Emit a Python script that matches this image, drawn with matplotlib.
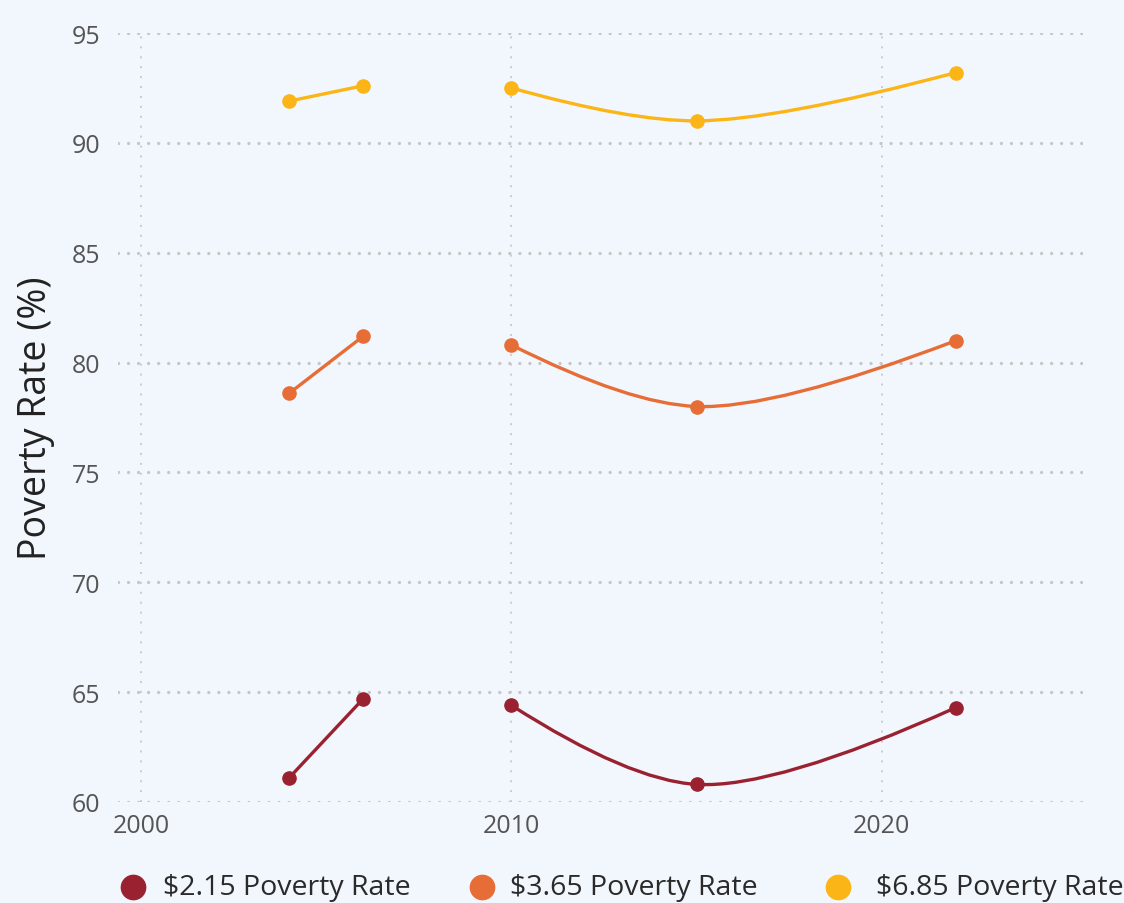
import numpy as np
import matplotlib
matplotlib.use("Agg")
import matplotlib.pyplot as plt
from matplotlib.path import Path
from matplotlib.patches import PathPatch
from matplotlib.lines import Line2D

years = [2004, 2006, 2010, 2015, 2022]
segments = [[0, 1], [2, 3, 4]]  # data gap between 2006 and 2010
series_names = ["$2.15 Poverty Rate", "$3.65 Poverty Rate", "$6.85 Poverty Rate"]
rate_215 = [61.1, 64.7, 64.4, 60.8, 64.3]
rate_365 = [78.6, 81.2, 80.8, 78.0, 81.0]
rate_685 = [91.9, 92.6, 92.5, 91.0, 93.2]
colors = ["#9a2230", "#e76d37", "#fcb517"]
y_ticks = [60, 65, 70, 75, 80, 85, 90, 95]
x_ticks = [2000, 2010, 2020]

BG = "#f2f7fd"
W, H = 1124, 904
fig = plt.figure(figsize=(W / 100, H / 100), dpi=100, facecolor=BG)
ax = fig.add_axes([118 / W, 1 - 803 / H, (1083 - 118) / W, (803 - 34) / H])
ax.set_facecolor(BG)
ax.set_xlim(1999.38, 2025.43)
ax.set_ylim(60, 95)
for s in ax.spines.values():
    s.set_visible(False)

ax.set_yticks(y_ticks)
ax.set_xticks(x_ticks)
ax.tick_params(length=0, labelsize=18, labelcolor="#555555")
ax.tick_params(axis="y", pad=13)
ax.tick_params(axis="x", pad=8)
for lab in ax.get_xticklabels() + ax.get_yticklabels():
    lab.set_fontfamily("Open Sans")

for y in y_ticks:
    ax.axhline(y, color="#c6c6c6", lw=2.4, ls=(0, (0.01, 3.0)), dash_capstyle="round", zorder=1)
for x in x_ticks:
    ax.axvline(x, color="#cbcbcb", lw=1.4, ls=(0, (1, 4.1)), zorder=1)

ax.set_ylabel("Poverty Rate (%)", fontsize=27, color="#222222", fontfamily="Open Sans", labelpad=12)

fig.canvas.draw()


def tangent(p0, p1, p2, smooth=1.0):
    d1 = p0 - p1
    d2 = p2 - p1
    d1a = np.hypot(*d1) ** 0.5
    d2a = np.hypot(*d2) ** 0.5
    num = (d2a * d2a * d1 - d1a * d1a * d2) * smooth
    den1 = 3 * d2a * (d1a + d2a)
    den2 = 3 * d1a * (d1a + d2a)
    return p1 + num / den1, p1 - num / den2


tr = ax.transData
inv = tr.inverted()
for vals, col in zip([rate_215, rate_365, rate_685], colors):
    for seg in segments:
        xs = [years[i] for i in seg]
        ys = [vals[i] for i in seg]
        if len(seg) == 2:
            ax.plot(xs, ys, color=col, lw=2.4, solid_capstyle="round", zorder=3)
        else:
            pts = tr.transform(np.column_stack([xs, ys]))
            ta, tb = tangent(pts[0], pts[1], pts[2])
            verts_disp = [pts[0], ta, pts[1], tb, pts[2]]
            verts = inv.transform(np.array(verts_disp))
            codes = [Path.MOVETO, Path.CURVE3, Path.CURVE3, Path.CURVE3, Path.CURVE3]
            patch = PathPatch(Path(verts, codes), fill=False, edgecolor=col, lw=2.4, zorder=3,
                              capstyle="round")
            ax.add_patch(patch)
        ax.plot(xs, ys, ls="none", marker="o", ms=9.5, color=col, zorder=4)

# legend
leg_y = 1 - 888 / H
for name, col, mx, tx in zip(series_names, colors, [133, 482, 838], [163, 510, 876]):
    fig.add_artist(Line2D([mx / W], [leg_y], marker="o", ms=17.5, color=col, ls="none",
                          transform=fig.transFigure))
    fig.text(tx / W, leg_y, name, fontsize=20.5, color="#2a2a2a", va="center", ha="left",
             fontfamily="Open Sans")

fig.savefig("out.png", dpi=100, facecolor=BG)
